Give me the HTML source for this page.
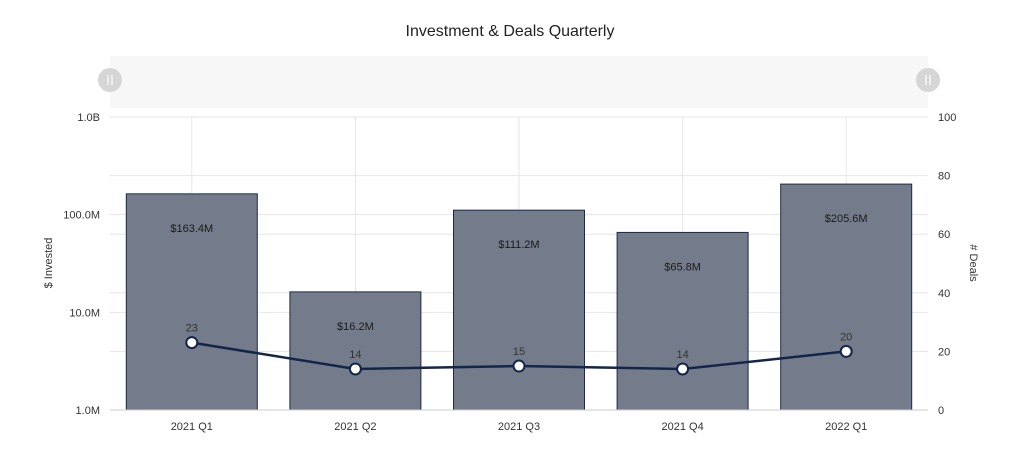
<!DOCTYPE html>
<html><head><meta charset="utf-8"><style>
body{margin:0;background:#fff;font-family:"Liberation Sans",sans-serif}
svg text{font-family:"Liberation Sans",sans-serif}
</style></head><body>
<svg width="1024" height="457">
<text x="510" y="36" text-anchor="middle" font-size="16" fill="#222">Investment &amp; Deals Quarterly</text>
<g>
<rect x="110" y="56" width="818" height="52" fill="#f7f7f7"/>
<circle cx="110" cy="80" r="12" fill="#d6d6d6"/>
<circle cx="928" cy="80" r="12" fill="#d6d6d6"/>
<path d="M108 75v10M112 75v10M926 75v10M930 75v10" stroke="#fff" stroke-width="1.2"/>
</g>
<g id="grid"></g>
<g id="bars"></g>
<g id="line"></g>
<g id="axes"></g>
<text transform="translate(52,263) rotate(-90)" text-anchor="middle" font-size="11" fill="#333">$ Invested</text>
<text transform="translate(970,263) rotate(90)" text-anchor="middle" font-size="11" fill="#333"># Deals</text>
</svg>
<script>
const categories=["2021 Q1","2021 Q2","2021 Q3","2021 Q4","2022 Q1"];
const invested=[163.4e6,16.2e6,111.2e6,65.8e6,205.6e6];
const investedLabels=["$163.4M","$16.2M","$111.2M","$65.8M","$205.6M"];
const deals=[23,14,15,14,20];
const leftTicks=[1e6,1e7,1e8,1e9];
const leftTickLabels=["1.0M","10.0M","100.0M","1.0B"];
const rightTicks=[0,20,40,60,80,100];
const NS="http://www.w3.org/2000/svg";
const X0=110,X1=928,YT=117,YB=410;
const band=(X1-X0)/categories.length;
const xc=i=>X0+band*(i+0.5);
const yl=v=>YB-(Math.log10(v)-6)/3*(YB-YT);
const yr=v=>YB-v/100*(YB-YT);
function mk(tag,attrs,parent,txt){const e=document.createElementNS(NS,tag);for(const k in attrs)e.setAttribute(k,attrs[k]);if(txt!==undefined)e.textContent=txt;document.getElementById(parent).appendChild(e);return e;}
rightTicks.forEach(t=>{const e=mk('line',{x1:X0,x2:X1,y1:yr(t),y2:yr(t),stroke:'#e6e6e6'},'grid');


const l=mk('text',{x:938,y:yr(t)+4,'font-size':11,fill:'#333'},'axes',String(t));

});
leftTicks.forEach((t,i)=>{const e=mk('line',{x1:X0,x2:X1,y1:yl(t),y2:yl(t),stroke:'#e6e6e6'},'grid');


const l=mk('text',{x:100,y:yl(t)+4,'font-size':11,fill:'#333','text-anchor':'end'},'axes',leftTickLabels[i]);

});
categories.forEach((c,i)=>{const g=mk('line',{x1:xc(i),x2:xc(i),y1:YT,y2:YB,stroke:'#e6e6e6'},'grid');


const bw=131,top=yl(invested[i]);
const b=mk('rect',{x:xc(i)-bw/2,y:top,width:bw,height:YB-top,fill:'#747c8c',stroke:'#1c2a4a','stroke-width':1},'bars');


const t=mk('text',{x:xc(i),y:top+38,'font-size':11,fill:'#1a1a1a','text-anchor':'middle'},'bars',investedLabels[i]);


const xl=mk('text',{x:xc(i),y:430,'font-size':11,fill:'#333','text-anchor':'middle'},'axes',c);

});
const ax=mk('line',{x1:X0,x2:X1,y1:YB,y2:YB,stroke:'#ccc'},'axes');


const pl=mk('polyline',{points:deals.map((d,i)=>xc(i)+','+yr(d)).join(' '),fill:'none',stroke:'#14254a','stroke-width':2.5},'line');


deals.forEach((d,i)=>{const c=mk('circle',{cx:xc(i),cy:yr(d),r:5.5,fill:'#fff',stroke:'#14254a','stroke-width':2},'line');


const t=mk('text',{x:xc(i),y:yr(d)-11,'font-size':11,fill:'#333','text-anchor':'middle'},'line',String(d));

});
</script>
</body></html>
